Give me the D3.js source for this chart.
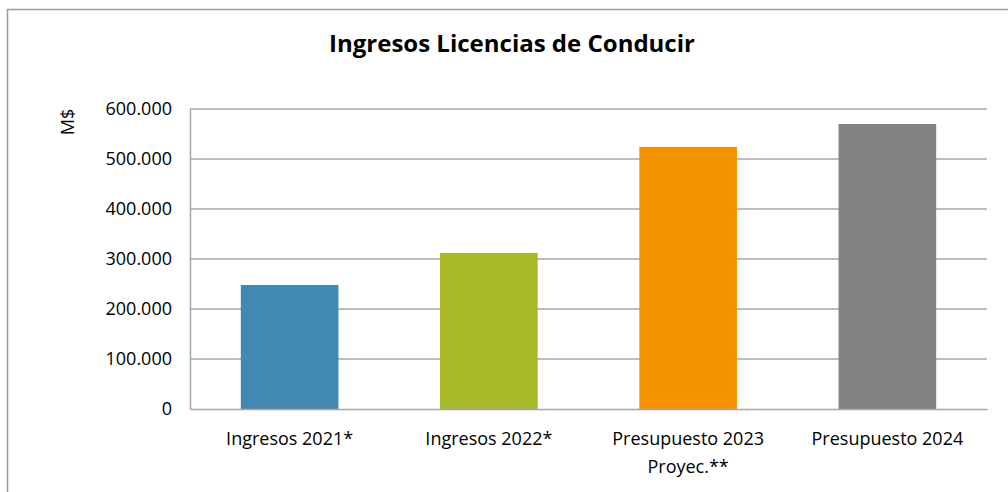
<!DOCTYPE html>
<html>
<head>
<meta charset="utf-8">
<script src="https://cdn.jsdelivr.net/npm/d3@7"></script>
<style>
  body { margin: 0; background: #fff; }
  svg text { font-family: "Open Sans", "Noto Sans", sans-serif; fill: #000; }
</style>
</head>
<body>
<div id="chart"></div>
<script>
// Chart data
const categories = ['Ingresos 2021*', 'Ingresos 2022*', 'Presupuesto 2023 Proyec.**', 'Presupuesto 2024'];
const values = [248000, 312000, 524000, 570000];
const barColors = ['#4189b3', '#a8b92a', '#f59200', '#838383'];
const yTicks = [0, 100000, 200000, 300000, 400000, 500000, 600000];

const width = 1008, height = 492;
const margin = {top: 109, right: 21, bottom: 83, left: 190};
const plotW = width - margin.left - margin.right;
const plotH = height - margin.top - margin.bottom;

let svg = d3.select('#chart')
  .append('svg')
    .attr('width', width)
    .attr('height', height);

// Outer frame
svg.append('rect')
  .attr('x', 7.5)
  .attr('y', 9.5)
  .attr('width', width + 10)
  .attr('height', height + 10)
  .attr('fill', 'none')
  .attr('stroke', '#9a9a9a')
  .attr('stroke-width', 1.5);

// Title
svg.append('text')
  .attr('x', 512)
  .attr('y', 52)
  .attr('text-anchor', 'middle')
  .style('font-size', '24px')
  .style('font-weight', 'bold')
  .text('Ingresos Licencias de Conducir');

// Y label
svg.append('text')
  .attr('transform', 'translate(74,122) rotate(-90)')
  .attr('text-anchor', 'middle')
  .style('font-size', '18px')
  .text('M$');

let g = svg.append('g')
  .attr('transform', 'translate(' + margin.left + ',' + margin.top + ')');

// Scales
let x = d3.scaleBand()
  .domain(categories)
  .range([0, plotW])
  .paddingInner(0.51)
  .paddingOuter(0.255);

let y = d3.scaleLinear()
  .domain([0, 600000])
  .range([plotH, 0]);

const fmt = v => d3.format(',')(v).replace(/,/g, '.');

// Gridlines
g.append('g')
  .selectAll('line')
  .data(yTicks.slice(1))
  .enter().append('line')
    .attr('x1', 0)
    .attr('x2', plotW)
    .attr('y1', d => y(d))
    .attr('y2', d => y(d))
    .attr('stroke', '#a6a6a6')
    .attr('stroke-width', 1.5);

// Bars
g.selectAll('.bar')
  .data(values)
  .enter().append('rect')
    .attr('class', 'bar')
    .attr('x', (d, i) => x(categories[i]))
    .attr('y', d => y(d))
    .attr('width', x.bandwidth())
    .attr('height', d => plotH - y(d))
    .attr('fill', (d, i) => barColors[i]);

// Y axis
let yAxis = g.append('g')
  .call(d3.axisLeft(y).tickValues(yTicks).tickFormat(fmt).tickSize(0).tickPadding(18));
yAxis.select('.domain').attr('stroke', '#a6a6a6').attr('stroke-width', 1.5);
yAxis.selectAll('text')
  .style('font-size', '18px')
  .attr('font-family', null);

// X axis
let xAxis = g.append('g')
  .attr('transform', 'translate(0,' + plotH + ')')
  .call(d3.axisBottom(x).tickSize(0).tickPadding(0));
xAxis.select('.domain').attr('stroke', '#a6a6a6').attr('stroke-width', 1.5);
xAxis.selectAll('text').remove();
xAxis.selectAll('.tick').each(function(d) {
  let t = d3.select(this).append('text')
    .attr('text-anchor', 'middle')
    .style('font-size', '18px')
    .attr('fill', '#000');
  let lines = d === 'Presupuesto 2023 Proyec.**' ? ['Presupuesto 2023', 'Proyec.**'] : [d];
  lines.forEach((l, i) => {
    t.append('tspan')
      .attr('x', 0)
      .attr('y', 36 + i * 28)
      .text(l);
  });
});
</script>
</body>
</html>
